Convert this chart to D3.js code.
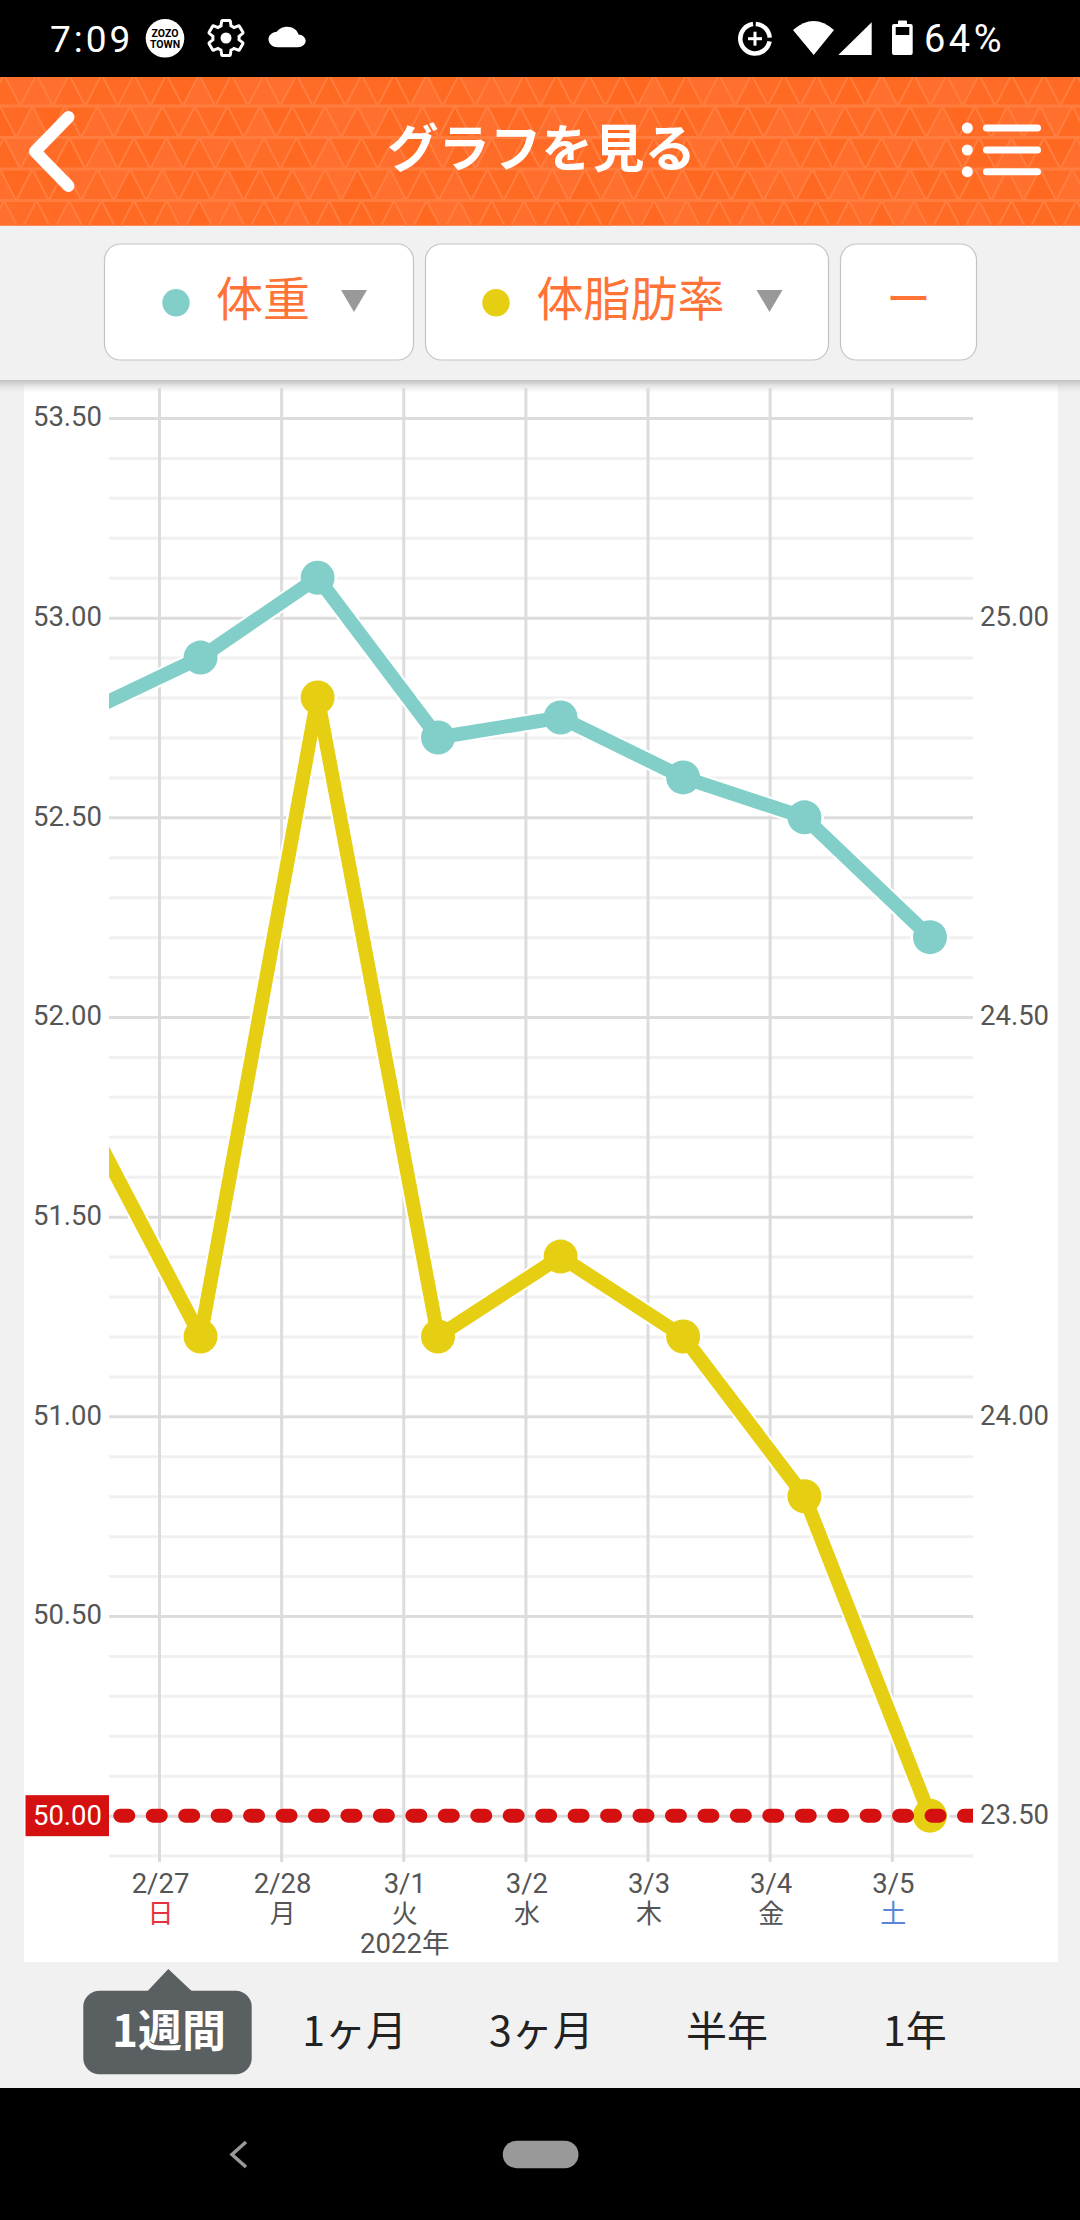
<!DOCTYPE html>
<html lang="ja">
<head>
<meta charset="utf-8">
<title>グラフを見る</title>
<script src="https://cdnjs.cloudflare.com/ajax/libs/d3/7.8.5/d3.min.js"></script>
<style>
  html, body { margin: 0; padding: 0; background: #000; }
  svg { display: block; }
  text { font-family: Roboto, "Noto Sans CJK JP", sans-serif; }
  .jp { font-family: "Noto Sans CJK JP", sans-serif; }
</style>
</head>
<body>
<svg id="app" width="1080" height="2220"></svg>
<script>
// measurement times, first one sits left of the visible range
const times = ['2022-02-26 07:30', '2022-02-27 08:10', '2022-02-28 07:10', '2022-03-01 06:50',
  '2022-03-02 06:55', '2022-03-03 07:00', '2022-03-04 06:50', '2022-03-05 07:30'];
const weight = [52.75, 52.9, 53.1, 52.7, 52.75, 52.6, 52.5, 52.2];
const bodyFat = [24.4, 24.1, 24.9, 24.1, 24.2, 24.1, 23.9, 23.5];

const dayTicks = ['2022-02-27', '2022-02-28', '2022-03-01', '2022-03-02', '2022-03-03', '2022-03-04', '2022-03-05'];
const dayLabels = ['2/27', '2/28', '3/1', '3/2', '3/3', '3/4', '3/5'];
const weekdays = ['日', '月', '火', '水', '木', '金', '土'];
const weekdayColors = ['#e6323c', '#555', '#555', '#555', '#555', '#555', '#5b86d8'];

const leftTicks = [53.5, 53, 52.5, 52, 51.5, 51, 50.5];
const minorTicks = [53.4, 53.3, 53.2, 53.1, 52.9, 52.8, 52.7, 52.6, 52.4, 52.3, 52.2, 52.1, 51.9, 51.8, 51.7, 51.6,
  51.4, 51.3, 51.2, 51.1, 50.9, 50.8, 50.7, 50.6, 50.4, 50.3, 50.2, 50.1, 49.9];
const rightTicks = [25, 24.5, 24, 23.5];
const targetWeight = 50;
const periods = ['1ヶ月', '3ヶ月', '半年', '1年'];
const periodX = [354.6, 541.4, 727, 915];

const TEAL = '#82cfca', YELLOW = '#e6cf12', RED = '#d51010', ORANGE = '#ff6b24', TEXT = '#555';
const LABEL_SIZE = 27.5;

const parseTime = d3.timeParse('%Y-%m-%d %H:%M');
const parseDay = d3.timeParse('%Y-%m-%d');

const svg = d3.select('#app');
const plot = { left: 109, right: 973 };

const x = d3.scaleTime().domain([parseDay(dayTicks[0]), parseDay(dayTicks[6])]).range([159, 891.8]);
const yLeft = d3.scaleLinear().domain([49.9, 53.5]).range([1855.6, 418]);
const yRight = d3.scaleLinear().domain([23.45, 25.25]).range([1855.6, 418]);

function buildBackground() {
  svg.append('rect').attr('width', 1080).attr('height', 2220).attr('fill', '#000');
  svg.append('rect').attr('y', 225).attr('width', 1080).attr('height', 1863).attr('fill', '#f1f1f1');
  svg.append('rect').attr('x', 24).attr('y', 384).attr('width', 1034).attr('height', 1578).attr('fill', '#fff');
}

function buildHeader() {
  const shades = ['#ff6a24', '#ff6c28', '#ff6e2c', '#ff6820', '#ff6b26', '#ff702f', '#ff6a22'];
  const defs = svg.append('defs');
  defs.append('clipPath').attr('id', 'header-clip').append('rect')
    .attr('y', 77).attr('width', 1080).attr('height', 148.5);
  defs.append('clipPath').attr('id', 'plot-clip').append('rect')
    .attr('x', plot.left).attr('y', 380).attr('width', plot.right - plot.left).attr('height', 1500);
  const gradient = defs.append('linearGradient').attr('id', 'shade').attr('x2', 0).attr('y2', 1);
  gradient.append('stop').attr('offset', 0).attr('stop-color', '#bbb').attr('stop-opacity', 0.9);
  gradient.append('stop').attr('offset', 1).attr('stop-color', '#ddd').attr('stop-opacity', 0);

  const g = svg.append('g').attr('clip-path', 'url(#header-clip)');
  g.append('rect').attr('y', 77).attr('width', 1080).attr('height', 149).attr('fill', ORANGE);
  const w = 32.5, h = 31.5;
  for (let r = 0; r < 6; r++) {
    const top = 74.5 + r * h;
    const shift = r % 2 ? -w / 2 : -w / 4 - 4;
    for (let c = 0; c < 36; c++) {
      const left = shift + c * w;
      g.append('path')
        .attr('d', `M${left},${top + h}L${left + w / 2},${top}L${left + w},${top + h}Z`)
        .attr('fill', shades[(r * 3 + c * 2) % shades.length])
        .attr('stroke', '#ff7e40').attr('stroke-width', 1.8);
      g.append('path')
        .attr('d', `M${left + w / 2},${top}L${left + w},${top + h}L${left + 1.5 * w},${top}Z`)
        .attr('fill', shades[(r * 5 + c * 3 + 2) % shades.length])
        .attr('stroke', '#ff7e40').attr('stroke-width', 1.8);
    }
    g.append('rect').attr('y', top - 1.5).attr('width', 1080).attr('height', 3).attr('fill', '#ff7d3e');
  }

  svg.append('path').attr('d', 'M68.5,117L35,151.5L68.5,186')
    .attr('fill', 'none').attr('stroke', '#fff').attr('stroke-width', 12)
    .attr('stroke-linecap', 'round').attr('stroke-linejoin', 'round');

  svg.append('text').attr('class', 'jp').attr('x', 541.5).attr('y', 167)
    .attr('text-anchor', 'middle').attr('font-size', 51.5).attr('font-weight', 700)
    .attr('fill', '#fff').text('グラフを見る');

  [128, 150, 171.7].forEach(cy => {
    svg.append('circle').attr('cx', 967.3).attr('cy', cy).attr('r', 5.5).attr('fill', '#fff');
    svg.append('rect').attr('x', 983).attr('y', cy - 3.5).attr('width', 58).attr('height', 7)
      .attr('rx', 3.5).attr('fill', '#fff');
  });
}

function buildStatusBar() {
  const g = svg.append('g').attr('fill', '#fff');
  g.append('text').attr('x', 50).attr('y', 51.5).attr('font-size', 37).attr('letter-spacing', 3).text('7:09');
  g.append('circle').attr('cx', 165).attr('cy', 38.3).attr('r', 19.3);
  g.append('text').attr('x', 165).attr('y', 37).attr('text-anchor', 'middle').attr('font-size', 10.5)
    .attr('font-weight', 700).attr('fill', '#000').text('ZOZO');
  g.append('text').attr('x', 165).attr('y', 48).attr('text-anchor', 'middle').attr('font-size', 10.5)
    .attr('font-weight', 700).attr('fill', '#000').text('TOWN');

  g.append('path').attr('transform', 'translate(205,17) scale(1.75)')
    .attr('d', 'M19.43 12.98c.04-.32.07-.64.07-.98s-.03-.66-.07-.98l2.11-1.65c.19-.15.24-.42.12-.64l-2-3.46c-.12-.22-.39-.3-.61-.22l-2.49 1c-.52-.4-1.08-.73-1.69-.98l-.38-2.65C14.46 2.18 14.25 2 14 2h-4c-.25 0-.46.18-.49.42l-.38 2.65c-.61.25-1.17.59-1.69.98l-2.49-1c-.23-.09-.49 0-.61.22l-2 3.46c-.13.22-.07.49.12.64l2.11 1.65c-.04.32-.07.65-.07.98s.03.66.07.98l-2.11 1.65c-.19.15-.24.42-.12.64l2 3.46c.12.22.39.3.61.22l2.49-1c.52.4 1.08.73 1.69.98l.38 2.65c.03.24.24.42.49.42h4c.25 0 .46-.18.49-.42l.38-2.65c.61-.25 1.17-.59 1.69-.98l2.49 1c.23.09.49 0 .61-.22l2-3.46c.12-.22.07-.49-.12-.64l-2.11-1.65z')
    .attr('fill', 'none').attr('stroke', '#fff').attr('stroke-width', 1.7);
  g.append('circle').attr('cx', 226).attr('cy', 38).attr('r', 5.5);

  g.append('path').attr('transform', 'translate(268.5,21.5) scale(1.55,1.29)')
    .attr('d', 'M19.35 10.04C18.67 6.59 15.64 4 12 4 9.11 4 6.6 5.64 5.35 8.04 2.34 8.36 0 10.91 0 14c0 3.31 2.69 6 6 6h13c2.76 0 5-2.24 5-5 0-2.64-2.05-4.78-4.65-4.96z');

  // data saver ring
  const ring = d3.arc().innerRadius(12.5).outerRadius(17);
  const saver = g.append('g').attr('transform', 'translate(755,38.7)');
  saver.append('path').attr('d', ring({ startAngle: 0.05, endAngle: 1.5 }));
  saver.append('path').attr('d', ring({ startAngle: 1.75, endAngle: 6.15 }));
  saver.append('rect').attr('x', -7).attr('y', -1.5).attr('width', 14).attr('height', 3);
  saver.append('rect').attr('x', -1.5).attr('y', -7).attr('width', 3).attr('height', 14);

  g.append('path').attr('d', 'M793,30Q813.7,12 834,30L813.7,55Z');
  g.append('path').attr('d', 'M838.3,55L871.7,22.3V55Z');
  g.append('path').attr('fill-rule', 'evenodd')
    .attr('d', 'M898,24V21.5Q898,20.5 899,20.5H906Q907,20.5 907,21.5V24H910.7Q912.7,24 912.7,26V53Q912.7,55 910.7,55H894Q892,55 892,53V26Q892,24 894,24ZM895.7,27V35H909.3V27Z');
  g.append('text').attr('x', 924).attr('y', 51.5).attr('font-size', 38).attr('letter-spacing', 3.5).text('64%');
}

function buildSelectors() {
  const buttons = [
    { x: 104.5, w: 309 },
    { x: 425.5, w: 403 },
    { x: 840.5, w: 136 }
  ];
  svg.selectAll('rect.selector').data(buttons).enter().append('rect')
    .attr('class', 'selector')
    .attr('x', d => d.x).attr('y', 244).attr('width', d => d.w).attr('height', 116)
    .attr('rx', 16).attr('fill', '#fff').attr('stroke', '#c4c4c4').attr('stroke-width', 1.2);

  const legend = [
    { label: '体重', dot: 176, color: TEAL, text: 216, arrow: 354 },
    { label: '体脂肪率', dot: 496, color: YELLOW, text: 536.5, arrow: 769.5 }
  ];
  legend.forEach(d => {
    svg.append('circle').attr('cx', d.dot).attr('cy', 302.7).attr('r', 13.7).attr('fill', d.color);
    svg.append('text').attr('class', 'jp').attr('x', d.text).attr('y', 316)
      .attr('font-size', 47).attr('fill', '#ff7436').text(d.label);
    svg.append('path').attr('d', `M${d.arrow - 13},290H${d.arrow + 13}L${d.arrow},312Z`).attr('fill', '#999');
  });
  svg.append('text').attr('class', 'jp').attr('x', 908.5).attr('y', 316).attr('text-anchor', 'middle')
    .attr('font-size', 45).attr('fill', '#ff7436').text('ー');

  // shadow under the selector strip
  svg.append('rect').attr('y', 380).attr('width', 1080).attr('height', 13).attr('fill', 'url(#shade)');
}

function buildAxes() {
  const minor = svg.append('g').attr('transform', `translate(${plot.left},0)`)
    .call(d3.axisRight(yLeft).tickValues(minorTicks).tickSize(plot.right - plot.left).tickFormat(''));
  minor.select('.domain').remove();
  minor.selectAll('line').attr('stroke', '#f0f0f0').attr('stroke-width', 3);

  const left = svg.append('g').attr('transform', `translate(${plot.left},0)`)
    .call(d3.axisLeft(yLeft).tickValues(leftTicks).tickSize(0).tickPadding(7).tickFormat(d3.format('.2f')));
  left.select('.domain').remove();
  left.selectAll('text').attr('font-size', LABEL_SIZE).attr('fill', TEXT).attr('font-family', 'Roboto').attr('dy', '0.29em');

  const major = svg.append('g').attr('transform', `translate(${plot.left},0)`)
    .call(d3.axisRight(yLeft).tickValues(leftTicks.concat(targetWeight)).tickSize(plot.right - plot.left).tickFormat(''));
  major.select('.domain').remove();
  major.selectAll('line').attr('stroke', '#dcdcdc').attr('stroke-width', 3);

  const right = svg.append('g').attr('transform', `translate(${plot.right},0)`)
    .call(d3.axisRight(yRight).tickValues(rightTicks).tickSize(0).tickPadding(7).tickFormat(d3.format('.2f')));
  right.select('.domain').remove();
  right.selectAll('text').attr('font-size', LABEL_SIZE).attr('fill', TEXT).attr('font-family', 'Roboto').attr('dy', '0.29em');

  const bottom = svg.append('g').attr('transform', 'translate(0,1862)')
    .call(d3.axisBottom(x).tickValues(dayTicks.map(parseDay)).tickSize(0).tickFormat(''));
  bottom.select('.domain').remove();
  bottom.selectAll('line').attr('y1', 388 - 1862).attr('y2', 0)
    .attr('stroke', '#dcdcdc').attr('stroke-width', 3);

  const labels = bottom.selectAll('.tick').select('text')
    .attr('y', 0).attr('dy', 0).attr('font-size', LABEL_SIZE).attr('fill', TEXT);
  labels.each(function(d, i) {
    const label = d3.select(this);
    label.append('tspan').attr('x', 1).attr('y', 31).attr('font-family', 'Roboto').text(dayLabels[i]);
    label.append('tspan').attr('x', 1).attr('y', 61).attr('font-family', 'Noto Sans CJK JP')
      .attr('font-size', 26).attr('fill', weekdayColors[i]).text(weekdays[i]);
    if (dayLabels[i] === '3/1') {
      label.append('tspan').attr('x', 1).attr('y', 91).text('2022年');
    }
  });
}

function buildSeries(values, y, color) {
  const points = values.map((v, i) => ({ t: parseTime(times[i]), v }));
  const line = d3.line().x(d => x(d.t)).y(d => y(d.v));
  const g = svg.append('g').attr('clip-path', 'url(#plot-clip)');

  g.append('path').attr('d', line(points)).attr('fill', 'none')
    .attr('stroke', '#fff').attr('stroke-width', 18);
  g.selectAll('circle.halo').data(points).enter().append('circle').attr('class', 'halo')
    .attr('cx', d => x(d.t)).attr('cy', d => y(d.v)).attr('r', 19.5).attr('fill', '#fff');
  g.append('path').attr('d', line(points)).attr('fill', 'none')
    .attr('stroke', color).attr('stroke-width', 14).attr('stroke-linejoin', 'round');
  g.selectAll('circle.dot').data(points).enter().append('circle').attr('class', 'dot')
    .attr('cx', d => x(d.t)).attr('cy', d => y(d.v)).attr('r', 17).attr('fill', color);
}

function buildTarget() {
  svg.append('line')
    .attr('x1', 120.3).attr('x2', plot.right + 20)
    .attr('y1', yLeft(targetWeight)).attr('y2', yLeft(targetWeight))
    .attr('clip-path', 'url(#plot-clip)')
    .attr('stroke', RED).attr('stroke-width', 14)
    .attr('stroke-linecap', 'round').attr('stroke-dasharray', '8 24.45');
  svg.append('rect').attr('x', 25.5).attr('y', yLeft(targetWeight) - 20.5)
    .attr('width', plot.left - 25.5).attr('height', 41).attr('fill', RED);
  svg.append('text').attr('x', 102).attr('y', yLeft(targetWeight) + 9.5)
    .attr('text-anchor', 'end').attr('font-size', LABEL_SIZE).attr('fill', '#fff').text(d3.format('.2f')(targetWeight));
}

function buildPeriods() {
  svg.append('path').attr('d', 'M146.7,1992L168.3,1969L192.7,1992Z').attr('fill', '#5a5f61');
  svg.append('rect').attr('x', 83.3).attr('y', 1990.7).attr('width', 168.4).attr('height', 83.5)
    .attr('rx', 16).attr('fill', '#5a5f61');
  svg.append('text').attr('class', 'jp').attr('x', 169).attr('y', 2047).attr('text-anchor', 'middle')
    .attr('font-size', 44).attr('font-weight', 700).attr('fill', '#fff').text('1週間');

  svg.selectAll('text.period').data(periods).enter().append('text')
    .attr('class', 'period jp')
    .attr('x', (d, i) => periodX[i]).attr('y', 2046).attr('text-anchor', 'middle')
    .attr('font-size', 41).attr('fill', '#222').text(d => d);
}

function buildNavBar() {
  svg.append('path').attr('d', 'M246,2142L232,2154.5L246,2167')
    .attr('fill', 'none').attr('stroke', '#999').attr('stroke-width', 3.5);
  svg.append('rect').attr('x', 502.8).attr('y', 2140.7).attr('width', 75.7).attr('height', 27.5)
    .attr('rx', 13.7).attr('fill', '#999');
}

buildBackground();
buildHeader();
buildStatusBar();
buildSelectors();
buildAxes();
buildSeries(weight, yLeft, TEAL);
buildSeries(bodyFat, yRight, YELLOW);
buildTarget();
buildPeriods();
buildNavBar();
</script>
</body>
</html>
